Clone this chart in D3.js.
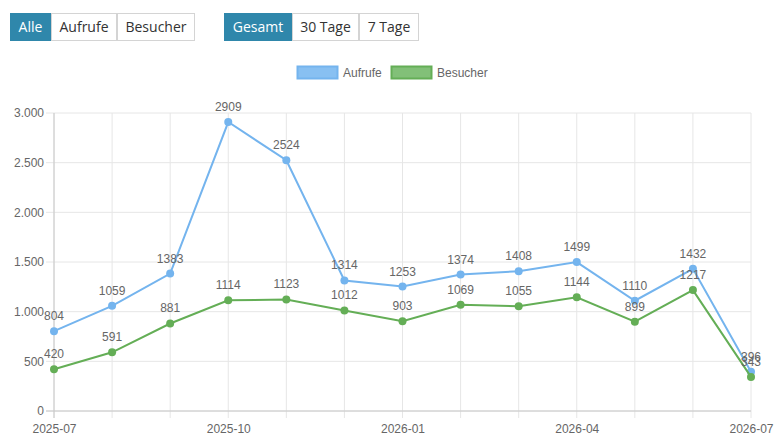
<!DOCTYPE html>
<html>
<head>
<meta charset="utf-8">
<script src="https://cdn.jsdelivr.net/npm/d3@7"></script>
<style>
  body { margin: 0; background: #fff; }
  svg { display: block; }
</style>
</head>
<body>
<svg id="chart"></svg>
<script>
const months = ['2025-07','2025-08','2025-09','2025-10','2025-11','2025-12','2026-01',
                '2026-02','2026-03','2026-04','2026-05','2026-06','2026-07'];
const aufrufe  = [804, 1059, 1383, 2909, 2524, 1314, 1253, 1374, 1408, 1499, 1110, 1432, 396];
const besucher = [420, 591, 881, 1114, 1123, 1012, 903, 1069, 1055, 1144, 899, 1217, 343];
const yTicks = [0, 500, 1000, 1500, 2000, 2500, 3000];
const xLabels = ['2025-07','2025-10','2026-01','2026-04','2026-07'];
const groupA = ['Alle', 'Aufrufe', 'Besucher'];
const groupB = ['Gesamt', '30 Tage', '7 Tage'];

const width = 781, height = 446;
const margin = {top: 113, right: 30, bottom: 35, left: 54};

const svg = d3.select('#chart').attr('width', width).attr('height', height);

const de = d3.formatLocale({decimal: ',', thousands: '.', grouping: [3], currency: ['', '€']});

// button groups
function buttonGroup(x0, labels, widths) {
  const g = svg.append('g').attr('transform', `translate(${x0},13)`);
  let x = 0;
  labels.forEach((l, i) => {
    const w = widths[i];
    g.append('rect')
      .attr('x', x + 0.5).attr('y', 0.5).attr('width', w - 1).attr('height', 27)
      .attr('fill', i === 0 ? '#2f87ab' : '#fff')
      .attr('stroke', i === 0 ? '#2f87ab' : '#d4d4d4');
    g.append('text')
      .attr('x', x + w / 2).attr('y', 19)
      .attr('text-anchor', 'middle')
      .attr('font-family', '"Open Sans", sans-serif').attr('font-size', 14)
      .attr('fill', i === 0 ? '#fff' : '#333')
      .text(l);
    x += w;
  });
  g.insert('rect', ':first-child')
    .attr('x', 0.5).attr('y', 0.5).attr('width', x - 1).attr('height', 27)
    .attr('rx', 3).attr('fill', 'none').attr('stroke', '#d4d4d4');
}
buttonGroup(10, groupA, [41, 66, 78]);
buttonGroup(224, groupB, [68, 67, 60]);

// scales
const x = d3.scalePoint().domain(months).range([margin.left, width - margin.right]);
const y = d3.scaleLinear().domain([0, 3000]).range([height - margin.bottom, margin.top]);

// grid
svg.append('g').selectAll('line').data(months).join('line')
  .attr('x1', d => x(d)).attr('x2', d => x(d))
  .attr('y1', margin.top).attr('y2', height - margin.bottom + 7)
  .attr('stroke', '#e6e6e6');
svg.append('g').selectAll('line').data(yTicks).join('line')
  .attr('x1', margin.left - 8).attr('x2', width - margin.right)
  .attr('y1', d => y(d)).attr('y2', d => y(d))
  .attr('stroke', '#e6e6e6');
svg.append('line').attr('x1', margin.left).attr('x2', margin.left)
  .attr('y1', margin.top).attr('y2', height - margin.bottom + 7).attr('stroke', '#c8c8c8');
svg.append('line').attr('x1', margin.left - 8).attr('x2', width - margin.right)
  .attr('y1', y(0)).attr('y2', y(0)).attr('stroke', '#c8c8c8');

// axes labels
const yAxis = d3.axisLeft(y).tickValues(yTicks).tickFormat(de.format(',')).tickSize(0).tickPadding(10);
svg.append('g').attr('transform', `translate(${margin.left},0)`).call(yAxis)
  .call(g => g.select('.domain').remove())
  .call(g => g.selectAll('text').attr('fill', '#666').attr('font-size', 12)
    .attr('font-family', '"Liberation Sans", Arial, sans-serif'));

const xAxis = d3.axisBottom(x).tickValues(xLabels).tickSize(0).tickPadding(13);
svg.append('g').attr('transform', `translate(0,${y(0)})`).call(xAxis)
  .call(g => g.select('.domain').remove())
  .call(g => g.selectAll('text').attr('fill', '#666').attr('font-size', 12)
    .attr('font-family', '"Liberation Sans", Arial, sans-serif'));

// series
const series = [
  {name: 'Aufrufe', values: aufrufe, color: '#74b4ee', fill: '#88c0f2'},
  {name: 'Besucher', values: besucher, color: '#64ae56', fill: '#82c078'}
];
const line = d3.line().x((d, i) => x(months[i])).y(d => y(d));

series.forEach(s => {
  svg.append('path').datum(s.values)
    .attr('d', line).attr('fill', 'none')
    .attr('stroke', s.color).attr('stroke-width', 2);
  svg.append('g').selectAll('circle').data(s.values).join('circle')
    .attr('cx', (d, i) => x(months[i])).attr('cy', d => y(d)).attr('r', 4)
    .attr('fill', s.color);
});
series.forEach(s => {
  svg.append('g').selectAll('text').data(s.values).join('text')
    .attr('x', (d, i) => x(months[i])).attr('y', d => y(d) - 11)
    .attr('text-anchor', 'middle')
    .attr('font-family', '"Liberation Sans", Arial, sans-serif').attr('font-size', 12)
    .attr('fill', '#666')
    .text(d => d);
});

// legend
const legend = svg.append('g').attr('transform', 'translate(297,66)');
const lx = [0, 94];
series.forEach((s, i) => {
  legend.append('rect').attr('x', lx[i] + 0.5).attr('y', 0.5).attr('width', 40).attr('height', 12)
    .attr('fill', s.fill).attr('stroke', s.color).attr('stroke-width', 2);
  legend.append('text').attr('x', lx[i] + 46).attr('y', 10.5)
    .attr('font-family', '"Liberation Sans", Arial, sans-serif').attr('font-size', 12)
    .attr('fill', '#666').text(s.name);
});
</script>
</body>
</html>
